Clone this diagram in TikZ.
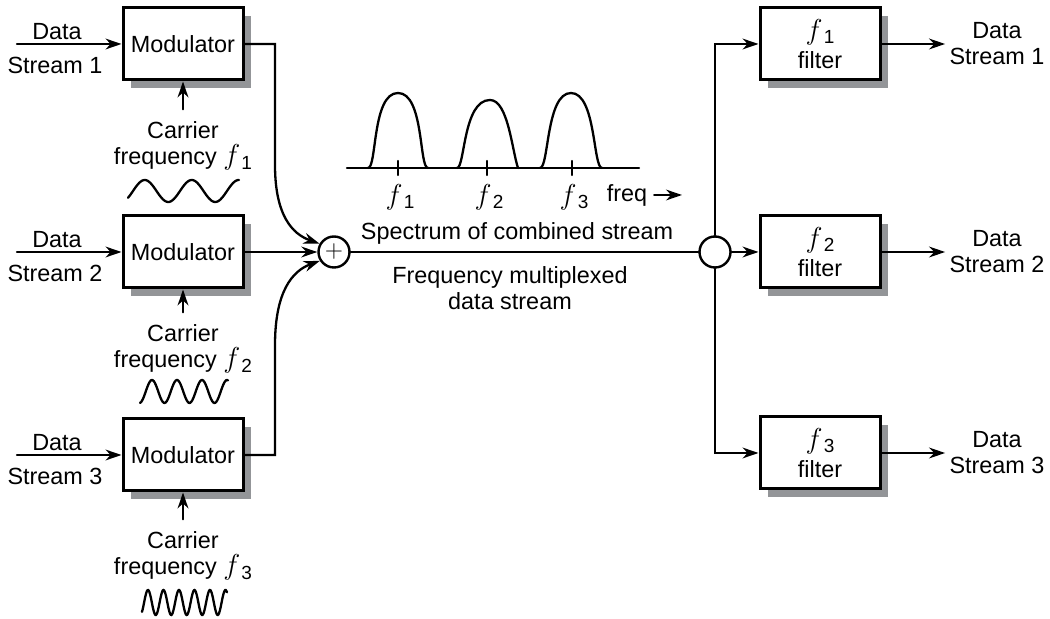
\documentclass[tikz,border=0pt]{standalone}
\usepackage{fontspec}
\setmainfont{Liberation Sans}
\usetikzlibrary{arrows.meta,shadows}
\definecolor{shadowgray}{RGB}{147,149,152}
\newcommand{\fsub}[1]{{\fontsize{14}{14}\selectfont$f$}\kern0.6pt\raisebox{-2.2pt}{\fontsize{9.5}{9.5}\selectfont#1}}

\begin{document}
\begin{tikzpicture}[
  x=0.5pt, y=-0.5pt,
  font=\fontsize{11.7}{13}\selectfont,
  modbox/.style={draw, line width=1.5pt, fill=white, align=center,
    minimum width=60pt, minimum height=36pt, inner sep=0pt,
    drop shadow={shadow xshift=4pt, shadow yshift=-4pt, fill=shadowgray, opacity=1}},
  junction/.style={draw, circle, line width=1.2pt, fill=white,
    minimum size=15.5pt, inner sep=0pt},
  wire/.style={line width=1.15pt, line cap=round},
  conn/.style={wire, -{Stealth[length=8pt,width=5.4pt,inset=2.6pt]}},
  lbl/.style={align=center, inner sep=2pt}
]
  \useasboundingbox (0,0) rectangle (1050,619);

  % modulators and their inputs
  \node[modbox] (mod1) at (183,44) {Modulator};
  \node[modbox] (mod2) at (183,252) {Modulator};
  \node[modbox] (mod3) at (183,455) {Modulator};

  \foreach \i/\y in {1/44,2/252,3/455} {
    \coordinate (in\i) at (17,\y);
    \node (dat\i) at (57,\y-12) {Data};
    \node (str\i) at (55,\y+21) {Stream \i};
    \draw[conn] (in\i) -- (mod\i);
  }

  % carriers
  \node[lbl] (car1) at (183,146) {Carrier\\frequency \fsub{1}};
  \node[lbl] (car2) at (183,349) {Carrier\\frequency \fsub{2}};
  \node[lbl] (car3) at (183,556) {Carrier\\frequency \fsub{3}};
  \foreach \i in {1,2,3}
    \draw[conn, shorten <=4pt] (car\i) -- (mod\i);

  \draw[wire] plot[domain=128:239, samples=90] (\x,{191-11*sin((\x-133)*7.6596)});
  \draw[wire] plot[domain=140:228, samples=90] (\x,{391.5-11.5*sin((\x-145.75)*14.4)});
  \draw[wire] plot[domain=142:227, samples=140] (\x,{602.5-12.5*sin((\x-144.1)*23.2258)});

  % combining
  \node[junction, font=\fontsize{12}{12}\selectfont] (sum) at (334,252) {$+$};
  \node[junction] (split) at (715,252) {};

  \draw[conn] (mod1.east) -- (275,44) -- (275,165)
    .. controls (275,215) and (292,234) .. (sum.150);
  \draw[conn] (mod2) -- (sum);
  \draw[conn] (mod3.east) -- (275,455) -- (275,345)
    .. controls (275,292) and (292,271) .. (sum.212);
  \draw[wire] (sum) -- (split);

  \node (spec) at (517,233) {Spectrum of combined stream};
  \node[lbl] (fdm) at (510,288) {Frequency multiplexed\\data stream};

  % spectrum
  \draw[wire] (347,168) -- (639,168);
  \foreach \fx/\i in {398/1,487/2,572/3} {
    \draw[wire] (\fx,161) -- (\fx,175);
    \node (fl\i) at (\fx+2,197) {\fsub{\i}};
  }
  \draw[wire] (368,168) .. controls (377,168) and (372,93) .. (398,93)
    .. controls (424,93) and (419,168) .. (428,168);
  \draw[wire] (457,168) .. controls (465,168) and (463,100) .. (490,100)
    .. controls (508,100) and (512,150) .. (518,168);
  \draw[wire] (540,168) .. controls (549,168) and (546,93) .. (571,93)
    .. controls (596,93) and (593,168) .. (602,168);
  \node (freq) at (627,195) {freq};
  \coordinate (fend) at (682,195);
  \draw[conn] (freq) -- (fend);

  % filters
  \node[modbox] (flt1) at (820,44) {\fsub{1}\\[1.5pt]filter};
  \node[modbox] (flt2) at (820,252) {\fsub{2}\\[1.5pt]filter};
  \node[modbox] (flt3) at (820,453) {\fsub{3}\\[1.5pt]filter};

  \draw[conn] (split.north) |- (flt1);
  \draw[conn] (split) -- (flt2);
  \draw[conn] (split.south) |- (flt3);

  \foreach \i/\y in {1/44,2/252,3/453} {
    \node[lbl] (out\i) at (997,\y) {Data\\Stream \i};
    \draw[conn] (flt\i) -- (out\i);
  }
\end{tikzpicture}
\end{document}
